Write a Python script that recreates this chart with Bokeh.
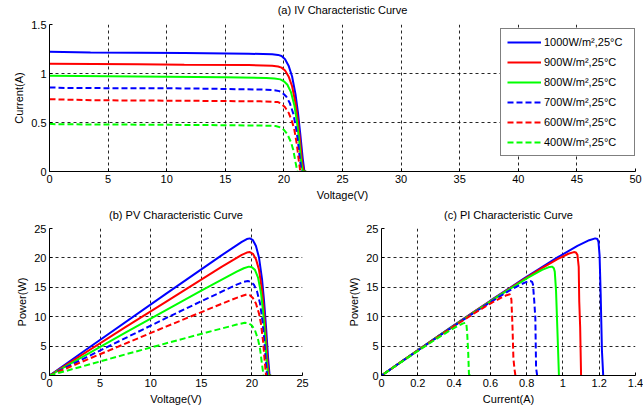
from bokeh.plotting import figure
from bokeh.layouts import column, row
from bokeh.models import Range1d, FixedTicker, CustomJSTickFormatter, Legend, LegendItem, Title
from bokeh.embed import file_html
from bokeh.resources import INLINE

# ---------------- data ----------------
labels = ["1000W/m\u00b2,25\u00b0C", "900W/m\u00b2,25\u00b0C", "800W/m\u00b2,25\u00b0C",
          "700W/m\u00b2,25\u00b0C", "600W/m\u00b2,25\u00b0C", "400W/m\u00b2,25\u00b0C"]

v_1000 = [0, 3.5, 11.5, 17.0, 19.0, 19.5, 19.8, 20.1, 20.4, 20.7, 21.0, 21.2, 21.4, 21.6, 21.75, 21.9]
i_1000 = [1.222, 1.215, 1.208, 1.202, 1.196, 1.19, 1.178, 1.145, 1.08, 0.97, 0.78, 0.60, 0.38, 0.14, 0.0, 0.0]

v_900 = [0, 7.5, 11.5, 17.0, 19.0, 19.5, 19.8, 20.1, 20.4, 20.7, 21.0, 21.2, 21.4, 21.55, 21.7, 21.9]
i_900 = [1.10, 1.095, 1.09, 1.087, 1.08, 1.072, 1.06, 1.03, 0.97, 0.87, 0.69, 0.51, 0.29, 0.10, 0.0, 0.0]

v_800 = [0, 7.5, 15.0, 18.5, 19.2, 19.7, 20.0, 20.3, 20.6, 20.9, 21.1, 21.3, 21.45, 21.6, 21.9]
i_800 = [0.978, 0.97, 0.962, 0.955, 0.95, 0.94, 0.92, 0.885, 0.81, 0.67, 0.52, 0.32, 0.12, 0.0, 0.0]

v_700 = [0, 1.5, 11.5, 15.0, 18.5, 19.2, 19.6, 19.9, 20.2, 20.5, 20.8, 21.0, 21.2, 21.35, 21.5]
i_700 = [0.858, 0.852, 0.848, 0.842, 0.835, 0.83, 0.82, 0.80, 0.765, 0.70, 0.59, 0.47, 0.31, 0.14, 0.0]

v_600 = [0, 1.5, 4.0, 11.5, 18.0, 19.0, 19.5, 19.8, 20.1, 20.4, 20.7, 20.9, 21.1, 21.25, 21.4]
i_600 = [0.738, 0.733, 0.727, 0.722, 0.716, 0.712, 0.708, 0.69, 0.655, 0.60, 0.51, 0.42, 0.28, 0.13, 0.0]

v_400 = [0, 0.5, 8.0, 15.5, 18.5, 19.3, 19.7, 20.0, 20.3, 20.6, 20.8, 21.0, 21.15]
i_400 = [0.488, 0.482, 0.478, 0.472, 0.468, 0.465, 0.45, 0.425, 0.38, 0.30, 0.22, 0.09, 0.0]

voltages = [v_1000, v_900, v_800, v_700, v_600, v_400]
currents = [i_1000, i_900, i_800, i_700, i_600, i_400]
powers = [[v * i for v, i in zip(vs, cs)] for vs, cs in zip(voltages, currents)]

colors = ["#0000ff", "#ff0000", "#00ff00", "#0000ff", "#ff0000", "#00ff00"]
dashes = ["solid", "solid", "solid", "6 3", "6 3", "6 3"]

iv_xticks = [0, 5, 10, 15, 20, 25, 30, 35, 40, 45, 50]
iv_yticks = [0, 0.5, 1, 1.5]
pv_xticks = [0, 5, 10, 15, 20, 25]
p_yticks = [0, 5, 10, 15, 20, 25]
pi_xticks = [0, 0.2, 0.4, 0.6, 0.8, 1.0, 1.2, 1.4]

# ---------------- styling helpers ----------------
FONT = "Liberation Sans"
FS = "11px"
fmt = CustomJSTickFormatter(code="return Number(tick.toFixed(2)).toString();")


def make_fig(w, h, xr, yr, xt, yt, title, xlabel, ylabel, bl, br, bt, bb, gap):
    p = figure(width=w, height=h, x_range=Range1d(*xr), y_range=Range1d(*yr),
               output_backend="svg", toolbar_location=None,
               min_border_left=bl, min_border_right=br, min_border_top=bt, min_border_bottom=bb)
    # small spacer between the frame and the title
    p.add_layout(Title(text=" ", text_font_size=gap, standoff=0), "above")
    t = Title(text=title, align="center", text_font=FONT, text_font_size=FS,
              text_font_style="normal", text_color="black", standoff=0)
    p.add_layout(t, "above")
    p.outline_line_color = None
    p.background_fill_color = "white"
    p.border_fill_color = "white"
    for ax, ticks, lab in ((p.xaxis[0], xt, xlabel), (p.yaxis[0], yt, ylabel)):
        ax.ticker = FixedTicker(ticks=ticks, minor_ticks=[])
        ax.formatter = fmt
        ax.axis_label = lab
        ax.axis_label_text_font = FONT
        ax.axis_label_text_font_size = FS
        ax.axis_label_text_font_style = "normal"
        ax.axis_label_text_color = "black"
        ax.major_label_text_font = FONT
        ax.major_label_text_font_size = FS
        ax.major_label_text_color = "black"
        ax.axis_line_color = "black"
        ax.major_tick_line_color = "black"
        ax.major_tick_in = 3
        ax.major_tick_out = 0
        ax.major_label_standoff = 3
        ax.axis_label_standoff = 3
    for g in (p.xgrid[0], p.ygrid[0]):
        g.grid_line_color = "black"
        g.grid_line_dash = "3 3"
        g.grid_line_width = 1
        g.grid_line_alpha = 0.85
    return p


# ---------------- (a) IV ----------------
pa = make_fig(643, 203, (0, 50), (0, 1.5), iv_xticks, iv_yticks,
              "(a) IV Characteristic Curve", "Voltage(V)", "Current(A)", 49, 8, 24, 32, "7px")
items = []
for k in range(6):
    r = pa.line(voltages[k], currents[k], line_color=colors[k], line_dash=dashes[k], line_width=2)
    items.append(LegendItem(label=labels[k], renderers=[r]))
leg = Legend(items=items, location=(451, 15))
leg.label_text_font = FONT
leg.label_text_font_size = FS
leg.label_text_color = "black"
leg.label_height = 14
leg.glyph_height = 14
leg.glyph_width = 34
leg.label_standoff = 3
leg.label_width = 84
leg.spacing = 6
leg.padding = 6
leg.margin = 0
leg.border_line_color = "black"
leg.border_line_width = 1
leg.background_fill_color = "white"
leg.background_fill_alpha = 1
pa.add_layout(leg, "center")

# ---------------- (b) PV ----------------
pb = make_fig(330, 211, (0, 25), (0, 25), pv_xticks, p_yticks,
              "(b) PV Characteristic Curve", "Voltage(V)", "Power(W)", 49, 28, 25, 39, "6px")
for k in range(6):
    pb.line(voltages[k], powers[k], line_color=colors[k], line_dash=dashes[k], line_width=2)

# ---------------- (c) PI ----------------
pc = make_fig(313, 211, (0, 1.4), (0, 25), pi_xticks, p_yticks,
              "(c) PI Characteristic Curve", "Current(A)", "Power(W)", 51, 8, 25, 39, "6px")
for k in range(6):
    pc.line(currents[k], powers[k], line_color=colors[k], line_dash=dashes[k], line_width=2)

layout = column(pa, row(pb, pc, spacing=0), spacing=0)
open("out.html", "w").write(file_html(layout, INLINE))
